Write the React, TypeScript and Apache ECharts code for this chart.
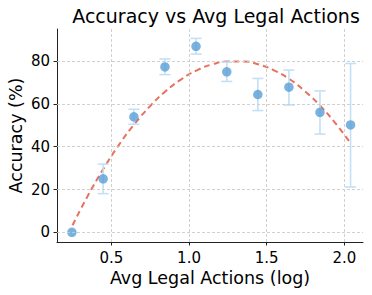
import React, { useEffect, useRef } from "react";
import * as echarts from "echarts";

const xValues = [0.246, 0.447, 0.645, 0.845, 1.045, 1.243, 1.443, 1.643, 1.843, 2.04];
const accuracy = [0, 25.0, 54.0, 77.3, 86.9, 75.0, 64.4, 67.8, 56.1, 50.2];
const errLow = [0, 18.1, 50.5, 73.7, 83.3, 70.5, 56.9, 59.5, 45.9, 21.2];
const errHigh = [0, 31.9, 57.5, 81.0, 90.6, 79.5, 71.9, 75.8, 66.1, 78.9];
const fitX = [0.25, 0.35, 0.45, 0.55, 0.65, 0.75, 0.85, 0.95, 1.05, 1.15, 1.25, 1.35, 1.45, 1.55, 1.65, 1.75, 1.85, 1.95, 2.04];
const fitY = [3.3, 17.3, 29.8, 41.0, 50.7, 59.0, 66.0, 71.5, 75.7, 78.5, 79.8, 79.8, 78.4, 75.6, 71.4, 65.7, 58.7, 50.3, 41.6];
const xTicks = [0.5, 1.0, 1.5, 2.0];
const yTicks = [0, 20, 40, 60, 80];

const FONT = "DejaVu Sans";

export default function App() {
  const ref = useRef<HTMLDivElement>(null);
  useEffect(() => {
    if (!ref.current) return;
    const chart = echarts.init(ref.current, null, { renderer: "svg" });
    const splitStyle = { color: "#cccccc", width: 0.9, type: [3, 2] as any };
    chart.setOption({
      animation: false,
      backgroundColor: "#ffffff",
      title: {
        text: "Accuracy vs Avg Legal Actions",
        left: 211,
        textAlign: "center",
        top: 1,
        textStyle: { fontFamily: FONT, fontSize: 19, fontWeight: "normal", color: "#000" },
      },
      grid: { left: 57, right: 9, top: 29, bottom: 53, containLabel: false, outerBoundsMode: "none" },
      xAxis: {
        type: "value",
        min: 0.15,
        max: 2.12,
        name: "Avg Legal Actions (log)",
        nameLocation: "middle",
        nameGap: 27,
        nameMoveOverlap: false,
        nameTextStyle: { fontFamily: FONT, fontSize: 17.5, color: "#000", verticalAlign: "top" },
        axisLine: { show: true, onZero: false, lineStyle: { color: "#222", width: 1 } },
        axisTick: { show: true, length: 3.5, inside: false, customValues: xTicks, lineStyle: { color: "#222" } },
        axisLabel: {
          customValues: xTicks,
          margin: 8,
          fontFamily: FONT,
          fontSize: 15,
          color: "#000",
          formatter: (v: number) => v.toFixed(1),
        },
        splitLine: { show: false },
      },
      yAxis: {
        type: "value",
        min: -4.5,
        max: 95,
        name: "Accuracy (%)",
        nameLocation: "middle",
        nameGap: 32,
        nameMoveOverlap: false,
        nameRotate: 90,
        nameTextStyle: { fontFamily: FONT, fontSize: 17.5, color: "#000" },
        axisLine: { show: true, onZero: false, lineStyle: { color: "#222", width: 1 } },
        axisTick: { show: true, length: 3.5, inside: false, customValues: yTicks, lineStyle: { color: "#222" } },
        axisLabel: {
          customValues: yTicks,
          margin: 7,
          fontFamily: FONT,
          fontSize: 15,
          color: "#000",
        },
        splitLine: { show: false },
      },
      series: [
        {
          type: "line",
          silent: true,
          data: [],
          markLine: {
            silent: true,
            symbol: "none",
            label: { show: false },
            lineStyle: splitStyle,
            data: [
              ...xTicks.map((v) => ({ xAxis: v })),
              ...yTicks.map((v) => ({ yAxis: v })),
            ],
          },
          z: 0,
        },
        {
          type: "line",
          data: fitX.map((x, i) => [x, fitY[i]]),
          smooth: true,
          showSymbol: false,
          lineStyle: { color: "#e8705f", width: 2, type: [6, 4] as any },
          z: 2,
        },
        {
          type: "custom",
          data: xValues.map((x, i) => [x, errLow[i], errHigh[i]]),
          renderItem: (params: any, api: any) => {
            const x = api.value(0);
            const lo = api.coord([x, api.value(1)]);
            const hi = api.coord([x, api.value(2)]);
            if (api.value(1) === api.value(2)) return { type: "group", children: [] };
            const cap = 5.5;
            const style = { stroke: "#c3e0f5", lineWidth: 1.6 };
            return {
              type: "group",
              children: [
                { type: "line", shape: { x1: lo[0], y1: lo[1], x2: hi[0], y2: hi[1] }, style },
                { type: "line", shape: { x1: lo[0] - cap, y1: lo[1], x2: lo[0] + cap, y2: lo[1] }, style },
                { type: "line", shape: { x1: hi[0] - cap, y1: hi[1], x2: hi[0] + cap, y2: hi[1] }, style },
              ],
            };
          },
          z: 3,
        },
        {
          type: "scatter",
          data: xValues.map((x, i) => [x, accuracy[i]]),
          symbol: "circle",
          symbolSize: 9.5,
          itemStyle: { color: "#579fd6" },
          z: 4,
        },
      ],
    });
    return () => chart.dispose();
  }, []);
  return <div ref={ref} style={{ width: 372, height: 295, position: "absolute", left: 0, top: 0 }} />;
}
